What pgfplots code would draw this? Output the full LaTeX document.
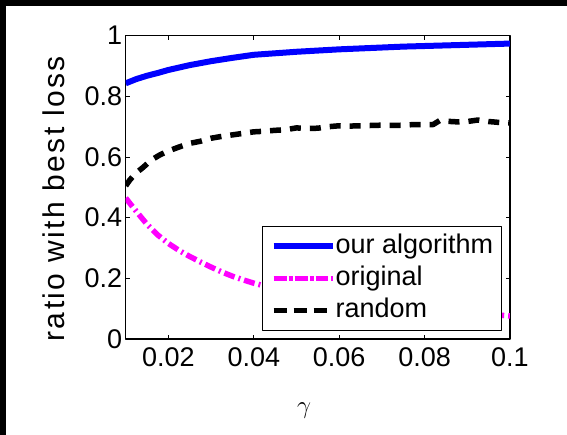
\documentclass[border=0pt]{standalone}
\usepackage{fontspec}
\setmainfont{Liberation Sans}
\usepackage{pgfplots}
\pgfplotsset{compat=1.18}
\begin{document}
\begin{tikzpicture}
\fill[white] (-125.7pt,-96pt) rectangle (441.3pt,339pt);
\begin{axis}[
 at={(0pt,0pt)}, anchor=south west,
 scale only axis, width=384.3pt, height=303.3pt,
 xmin=0.01, xmax=0.1, ymin=0, ymax=1,
 xtick={0.02,0.04,0.06,0.08,0.1}, xticklabels={0.02,0.04,0.06,0.08,0.1},
 ytick={0,0.2,0.4,0.6,0.8,1}, yticklabels={0,0.2,0.4,0.6,0.8,1},
 scaled x ticks=false, scaled y ticks=false,
 tick align=inside, major tick length=4pt,
 every tick/.style={black, line width=1pt},
 axis line style={line width=1.2pt},
 tick label style={font=\fontsize{27}{27}\selectfont},
 xticklabel style={yshift=-5pt},
 /pgf/number format/assume math mode=true,
 xlabel={$\gamma$},
 ylabel={ratio with best loss},
 xlabel style={at={(axis description cs:0.464,-0.247)}, anchor=base, font=\fontsize{42}{42}\selectfont},
 ylabel style={at={(axis description cs:-0.158,0.462)}, anchor=base, font=\fontsize{30}{30}\selectfont\addfontfeature{LetterSpace=8}},
 legend style={at={(0.9784,0.0264)}, anchor=south east, draw=black, line width=1pt, fill=white,
   inner xsep=8pt, inner ysep=7.15pt, row sep=6pt, column sep=0pt,
   font=\fontsize{27}{27}\selectfont,
   nodes={inner sep=0pt, text height=20pt, text depth=6pt}, cells={anchor=west}},
 legend image code/.code={\path (0pt,0pt) -- (59pt,0pt); \draw[#1, line cap=butt] (2pt,0pt) -- (54pt,0pt);},
 line join=round,
]
\addplot[color={rgb,255:red,0;green,0;blue,255}, line width=6pt] table {
0.010 0.843
0.0125 0.857
0.015 0.868
0.0175 0.877
0.020 0.887
0.025 0.903
0.030 0.916
0.035 0.927
0.040 0.937
0.045 0.942
0.050 0.947
0.055 0.951
0.060 0.955
0.065 0.958
0.070 0.961
0.075 0.964
0.080 0.966
0.085 0.968
0.090 0.970
0.095 0.972
0.100 0.974
};
\addlegendentry{our algorithm}
\addplot[color={rgb,255:red,255;green,0;blue,255}, line width=5.5pt, dash pattern=on 11pt off 4pt on 2pt off 4pt] table {
0.010 0.465
0.0115 0.438
0.013 0.412
0.015 0.378
0.0175 0.343
0.020 0.315
0.0225 0.292
0.025 0.272
0.0275 0.254
0.030 0.237
0.0325 0.221
0.035 0.207
0.0375 0.195
0.040 0.184
0.0425 0.175
0.045 0.166
0.050 0.152
0.055 0.140
0.060 0.129
0.065 0.119
0.070 0.111
0.075 0.104
0.080 0.097
0.085 0.091
0.090 0.086
0.095 0.081
0.100 0.076
};
\addlegendentry{original}
\addplot[black, line width=5.5pt, dash pattern=on 11pt off 9pt] table {
0.010 0.505
0.011 0.525
0.0125 0.548
0.014 0.565
0.016 0.590
0.018 0.607
0.020 0.620
0.0225 0.633
0.025 0.645
0.0275 0.652
0.030 0.662
0.0325 0.668
0.035 0.673
0.0375 0.678
0.040 0.683
0.0425 0.685
0.045 0.688
0.0475 0.690
0.050 0.696
0.0525 0.694
0.055 0.695
0.0575 0.700
0.060 0.703
0.0625 0.702
0.065 0.703
0.0675 0.704
0.070 0.705
0.0725 0.704
0.075 0.705
0.0775 0.707
0.080 0.707
0.082 0.707
0.0835 0.720
0.085 0.718
0.0875 0.716
0.090 0.717
0.0925 0.722
0.095 0.717
0.0975 0.714
0.100 0.712
};
\addlegendentry{random}
\end{axis}
\pgfresetboundingbox
\path[use as bounding box] (-125.7pt,-96pt) rectangle (441.3pt,339pt);
\fill[black] (-125.7pt,-96pt) rectangle (-119.7pt,339pt);
\fill[black] (-125.7pt,333pt) rectangle (441.3pt,339pt);
\end{tikzpicture}
\end{document}
